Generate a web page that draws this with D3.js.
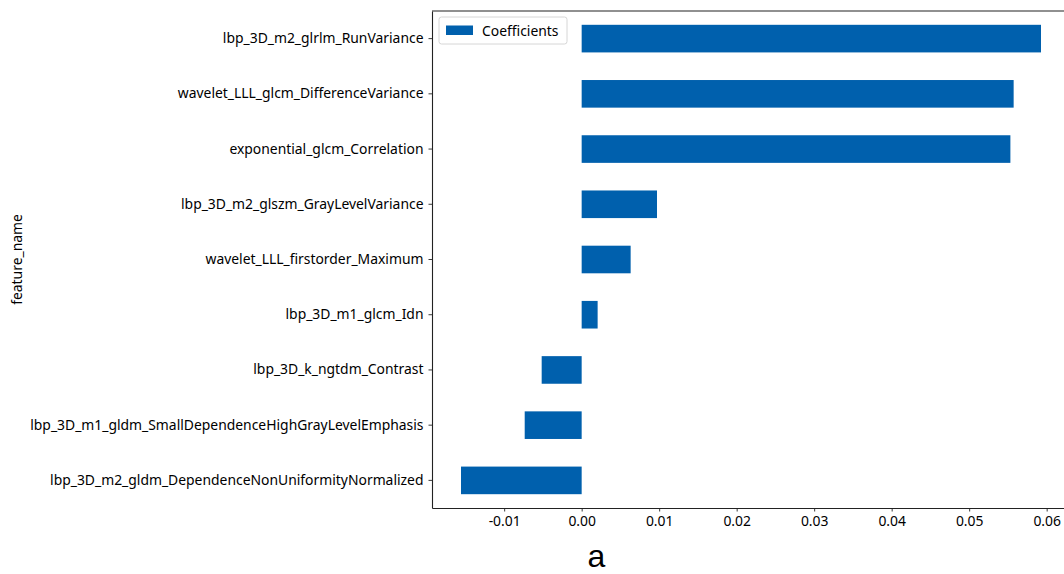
<!DOCTYPE html>
<html>
<head>
<meta charset="utf-8">
<script src="https://cdn.jsdelivr.net/npm/d3@7"></script>
<style>
  html, body { margin: 0; padding: 0; background: #fff; }
  svg { display: block; }
  text { font-family: "Noto Sans", "Open Sans", sans-serif; fill: #000; }
</style>
</head>
<body>
<svg id="chart" width="1064" height="574"></svg>
<script>
// Feature names, bottom to top as plotted
const features = [
  "lbp_3D_m2_gldm_DependenceNonUniformityNormalized",
  "lbp_3D_m1_gldm_SmallDependenceHighGrayLevelEmphasis",
  "lbp_3D_k_ngtdm_Contrast",
  "lbp_3D_m1_glcm_Idn",
  "wavelet_LLL_firstorder_Maximum",
  "lbp_3D_m2_glszm_GrayLevelVariance",
  "exponential_glcm_Correlation",
  "wavelet_LLL_glcm_DifferenceVariance",
  "lbp_3D_m2_glrlm_RunVariance"
];
const coefficients = [-0.01557, -0.00735, -0.00516, 0.00206, 0.00632, 0.00972, 0.05532, 0.05574, 0.05927];
const xTicks = [-0.01, 0.00, 0.01, 0.02, 0.03, 0.04, 0.05, 0.06];
const seriesName = "Coefficients";
const yTitle = "feature_name";
const caption = "a";

(function draw() {
  const svg = d3.select("#chart");
  const mLeft = 432, mRight = 1070, mTop = 11, mBottom = 508;
  const barColor = "#0060ad";
  const fontSize = 13.9;

  // x domain padded by 5% like the plotting defaults
  const lo = d3.min(coefficients), hi = d3.max(coefficients);
  const pad = (hi - lo) * 0.05;
  const x = d3.scaleLinear().domain([lo - pad, hi + pad]).range([mLeft, mRight]);

  const y = d3.scaleBand()
    .domain(features.slice().reverse())
    .range([mTop, mBottom])
    .paddingInner(0.5)
    .paddingOuter(0.25);

  // bars
  svg.append("g").selectAll("rect")
    .data(features.map((f, i) => ({ f, v: coefficients[i] })))
    .join("rect")
    .attr("x", d => x(Math.min(0, d.v)))
    .attr("width", d => Math.abs(x(d.v) - x(0)))
    .attr("y", d => y(d.f))
    .attr("height", y.bandwidth())
    .attr("fill", barColor);

  // axes
  const xAxis = svg.append("g")
    .attr("transform", `translate(0,${mBottom})`)
    .call(d3.axisBottom(x).tickValues(xTicks).tickFormat(d3.format(".2f"))
      .tickSize(3.5).tickSizeOuter(0).tickPadding(5));
  const yAxis = svg.append("g")
    .attr("transform", `translate(${mLeft},0)`)
    .call(d3.axisLeft(y).tickSize(3.5).tickSizeOuter(0).tickPadding(5));

  [xAxis, yAxis].forEach(g => {
    g.select(".domain").attr("stroke", "#222").attr("stroke-width", 1.1);
    g.selectAll(".tick line").attr("stroke", "#222").attr("stroke-width", 0.9);
    g.selectAll(".tick text").style("font-family", "'Noto Sans', sans-serif")
      .attr("font-size", fontSize).attr("fill", "#000");
  });
  xAxis.selectAll(".tick text").text(d => d3.format(".2f")(d).replace("\u2212", "-"));

  // top frame line
  svg.append("line")
    .attr("x1", mLeft).attr("x2", mRight)
    .attr("y1", mTop).attr("y2", mTop)
    .attr("stroke", "#222").attr("stroke-width", 1.1);

  // y axis title
  svg.append("text")
    .attr("transform", `translate(22,${(mTop + mBottom) / 2}) rotate(-90)`)
    .attr("text-anchor", "middle")
    .attr("font-size", fontSize)
    .text(yTitle);

  // legend
  const lg = svg.append("g").attr("transform", `translate(${mLeft + 7},${mTop + 6})`);
  lg.append("rect")
    .attr("width", 128).attr("height", 27).attr("rx", 2.5)
    .attr("fill", "#fff").attr("stroke", "#d6d6d6");
  lg.append("rect")
    .attr("x", 7).attr("y", 8.5).attr("width", 27).attr("height", 9.5)
    .attr("fill", barColor);
  lg.append("text")
    .attr("x", 43).attr("y", 18.5)
    .attr("font-size", fontSize)
    .text(seriesName);

  // panel caption
  svg.append("text")
    .attr("x", x(0.0019))
    .attr("y", 567)
    .attr("text-anchor", "middle")
    .style("font-family", "'Liberation Sans', Arial, sans-serif")
    .attr("font-size", 32)
    .text(caption);
})();
</script>
</body>
</html>
